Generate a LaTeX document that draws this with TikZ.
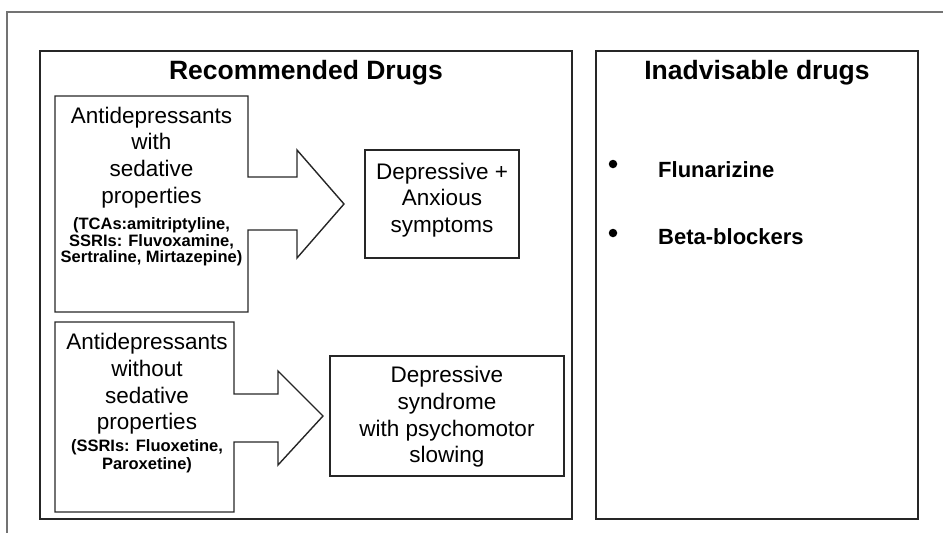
\documentclass[tikz,border=0pt]{standalone}
\usepackage{fontspec}
\setmainfont{Liberation Sans}
\usetikzlibrary{positioning}

\begin{document}
\begin{tikzpicture}[x=1pt, y=-1pt,
	frame/.style={draw=black!85, line width=1.4pt},
	anchorbox/.style={inner sep=0pt, outer sep=0pt},
	big/.style={align=center, inner sep=0pt, font=\fontsize{22.5}{26.7}\selectfont},
	small/.style={align=center, inner sep=0pt, font=\bfseries\fontsize{16.5}{16.8}\selectfont},
	head/.style={inner sep=0pt, font=\bfseries\fontsize{26.5}{30}\selectfont},
	item/.style={inner sep=0pt, anchor=west, font=\bfseries\fontsize{22}{26}\selectfont},
	dot/.style={circle, fill=black, inner sep=0pt, minimum size=8.5pt}]

		\useasboundingbox (0,0) rectangle (943,533);

		% outer frame, cut at right and bottom
		\draw[black!55, line width=1.2pt] (943,12) -- (7,12) -- (7,533);

		% panels
		\draw[frame] (40,51) rectangle (572,519); % recommended
		\draw[frame] (596,51) rectangle (918,519); % inadvisable
		\node[head] (rec) at (306,73) {Recommended Drugs};
		\node[head] (inadv) at (757,73) {Inadvisable drugs};

		% source boxes (outline drawn with the arrows)
		\node[anchorbox, minimum width=193pt, minimum height=216pt] (A1) at (151.5,204) {};
		\node[anchorbox, minimum width=179pt, minimum height=190pt] (A2) at (144.5,417) {};

		% target boxes
		\node[frame, anchorbox, minimum width=154pt, minimum height=108pt] (B1) at (442,204) {};
		\node[frame, anchorbox, minimum width=234pt, minimum height=120pt] (B2) at (447,416) {};

		% box + block arrow, upper
		\draw[frame, line join=miter] (A1.north west) -- (A1.north east) -- (248,177) -- (297,177) -- (297,150)
			-- ([xshift=-21pt]B1.west) -- (297,258) -- (297,230) -- (248,230) -- (A1.south east) -- (A1.south west) -- cycle;

		% box + block arrow, lower
		\draw[frame, line join=miter] (A2.north west) -- (A2.north east) -- (234,394) -- (278,394) -- (278,371)
			-- ([xshift=-7pt]B2.west) -- (278,465) -- (278,442) -- (234,442) -- (A2.south east) -- (A2.south west) -- cycle;

		% texts
		\node[big] (sed) at (151.5,157.5) {Antidepressants\\with\\sedative\\properties};
		\node[small, below=9pt of sed] (sedlist) {(TCAs:amitriptyline,\\SSRIs: Fluvoxamine,\\Sertraline, Mirtazepine)};
		\node[big] (nosed) at (147,384) {Antidepressants\\without\\sedative\\properties};
		\node[small, below=5pt of nosed, font=\bfseries\fontsize{16.5}{18}\selectfont] (nosedlist) {(SSRIs: Fluoxetine,\\Paroxetine)};
		\node[big] (anx) at (442,200) {Depressive +\\Anxious\\symptoms};
		\node[big] (slow) at (447,417) {Depressive\\syndrome\\with psychomotor\\slowing};

		% list
		\node[dot] (d1) at (613,164) {};
		\node[dot] (d2) at (613,233) {};
		\node[item] (flu) at (658,170) {Flunarizine};
		\node[item] (beta) at (658,237) {Beta-blockers};

\end{tikzpicture}
\end{document}
